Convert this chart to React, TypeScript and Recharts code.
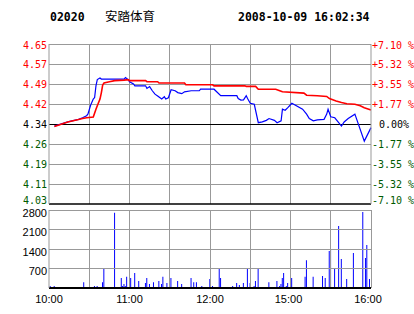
import React from 'react';
import { ComposedChart, BarChart, Line, Bar, XAxis, YAxis, ReferenceLine } from 'recharts';

const stockCode = '02020';
const stockName = '安踏体育';
const timestamp = '2008-10-09 16:02:34';

const prevClose = 4.34;
const pctTickValues = [7.1, 5.325, 3.55, 1.775, 0, -1.775, -3.55, -5.325, -7.1];
const priceTickLabels = ['4.65', '4.57', '4.49', '4.42', '4.34', '4.26', '4.19', '4.11', '4.03'];
const pctTickLabels = ['+7.10 %', '+5.32 %', '+3.55 %', '+1.77 %', '0.00%', '-1.77 %', '-3.55 %', '-5.32 %', '-7.10 %'];
const volumeTicks = [0, 700, 1400, 2100, 2800];
const volumeTickLabels = ['', '700', '1400', '2100', '2800'];
const timeTicks = [0, 30, 60, 90, 120, 150, 180, 210, 240];
const timeLabels = ['10:00', '', '11:00', '', '12:00', '', '15:00', '', '16:00'];

// minute index from 10:00 (0..240, lunch break removed)
const priceMinutes = [4, 14, 22, 25, 28, 29, 31, 33, 34, 35, 36, 38, 39, 56, 57, 59, 60, 63, 64, 72, 73, 75, 77, 79, 81, 84, 86, 87, 89, 91, 94, 96, 99, 101, 106, 112, 113, 123, 128, 140, 141, 143, 145, 147, 148, 150, 153, 156, 159, 162, 164, 168, 170, 173, 174, 176, 178, 181, 189, 192, 194, 197, 200, 205, 207, 208, 210, 213, 218, 220, 223, 228, 235, 240];
const priceValues = [4.332, 4.348, 4.358, 4.364, 4.372, 4.378, 4.412, 4.436, 4.442, 4.487, 4.511, 4.517, 4.513, 4.513, 4.519, 4.511, 4.503, 4.494, 4.487, 4.487, 4.477, 4.484, 4.468, 4.455, 4.448, 4.436, 4.445, 4.436, 4.441, 4.472, 4.468, 4.461, 4.457, 4.464, 4.468, 4.468, 4.474, 4.474, 4.449, 4.449, 4.438, 4.432, 4.433, 4.449, 4.438, 4.420, 4.416, 4.345, 4.348, 4.354, 4.361, 4.354, 4.345, 4.352, 4.397, 4.393, 4.403, 4.420, 4.397, 4.378, 4.361, 4.352, 4.356, 4.358, 4.378, 4.397, 4.368, 4.364, 4.332, 4.348, 4.361, 4.378, 4.274, 4.326];

const avgMinutes = [4, 14, 22, 25, 28, 33, 35, 36, 38, 39, 40, 41, 45, 49, 56, 59, 60, 72, 73, 81, 82, 101, 102, 122, 123, 146, 147, 154, 156, 169, 172, 174, 190, 192, 200, 207, 209, 214, 218, 222, 228, 232, 235, 240];
const avgValues = [4.330, 4.348, 4.357, 4.361, 4.364, 4.367, 4.397, 4.410, 4.436, 4.460, 4.490, 4.498, 4.503, 4.507, 4.509, 4.511, 4.507, 4.507, 4.503, 4.503, 4.498, 4.498, 4.491, 4.491, 4.487, 4.487, 4.485, 4.485, 4.474, 4.474, 4.468, 4.464, 4.459, 4.451, 4.449, 4.446, 4.438, 4.429, 4.423, 4.418, 4.416, 4.410, 4.403, 4.394];

const volMinutes = [1, 4, 26, 34, 36, 40, 41, 49, 54, 55, 56, 57, 58, 61, 64, 67, 72, 73, 75, 78, 82, 84, 85, 88, 91, 96, 99, 106, 108, 110, 114, 120, 122, 127, 128, 137, 140, 142, 145, 148, 150, 153, 154, 156, 164, 170, 172, 173, 174, 175, 177, 178, 181, 191, 192, 197, 204, 206, 209, 210, 213, 216, 218, 222, 227, 234, 236, 237, 239];
const volValues = [70, 70, 210, 70, 70, 210, 680, 2700, 360, 70, 140, 70, 400, 360, 540, 250, 180, 360, 140, 210, 250, 140, 400, 180, 360, 250, 140, 360, 210, 210, 70, 320, 70, 720, 360, 70, 180, 110, 180, 680, 180, 70, 250, 680, 210, 250, 70, 140, 360, 540, 70, 180, 360, 400, 1000, 400, 430, 360, 1330, 1400, 720, 2230, 1040, 320, 1260, 2730, 1080, 1540, 320];

const priceData = priceMinutes.map((t, i) => ({ t, v: priceValues[i], pct: (priceValues[i] / prevClose - 1) * 100 }));
const avgData = avgMinutes.map((t, i) => ({ t, v: avgValues[i] }));
const volData = volMinutes.map((t, i) => ({ t, vol: volValues[i] }));

const priceTicks = pctTickValues.map((p) => prevClose * (1 + p / 100));
const priceMin = priceTicks[priceTicks.length - 1];
const priceMax = priceTicks[0];

const RED = '#ff0000';
const GREEN = '#005a00';
const BLUE = '#0000ff';
const GRID = '#999999';
const MONO = '"DejaVu Sans Mono", monospace';
const SANS = '"Liberation Sans", Arial, sans-serif';

const labelColor = (i: number) => (i < 4 ? RED : i === 4 ? '#000' : GREEN);
const edgeDy = (i: number) => (i === 0 ? 1.5 : i === 8 ? -4 : 0);
const findIdx = (arr: number[], v: number) => arr.findIndex((a) => Math.abs(a - v) < 1e-6);

const PriceTick = (props: any) => {
  const { x, y, payload } = props;
  const i = findIdx(priceTicks, payload.value);
  if (i < 0) return null;
  return (
    <text x={x} y={y + edgeDy(i)} textAnchor="end" dominantBaseline="central" fill={labelColor(i)} fontFamily={MONO} fontSize={10}>
      {priceTickLabels[i]}
    </text>
  );
};

const PctTick = (props: any) => {
  const { x, y, payload } = props;
  const i = findIdx(pctTickValues, payload.value);
  if (i < 0) return null;
  return (
    <text x={x + (i === 4 ? 7 : 0)} y={y + edgeDy(i)} textAnchor="start" dominantBaseline="central" fill={labelColor(i)} fontFamily={MONO} fontSize={10}>
      {pctTickLabels[i]}
    </text>
  );
};

const VolTick = (props: any) => {
  const { x, y, payload } = props;
  const i = findIdx(volumeTicks, payload.value);
  if (i < 0) return null;
  return (
    <text x={x} y={y + 2.5} textAnchor="end" dominantBaseline="central" fill="#000" fontFamily={SANS} fontSize={11}>
      {volumeTickLabels[i]}
    </text>
  );
};

const timeDx = [0, 0, 0, 0, 0, 0, -2, 0, -3];
const TimeTick = (props: any) => {
  const { x, y, payload } = props;
  const i = findIdx(timeTicks, payload.value);
  if (i < 0 || !timeLabels[i]) return null;
  return (
    <text x={x + timeDx[i]} y={y + 15} textAnchor="middle" fill="#000" fontFamily={SANS} fontSize={11}>
      {timeLabels[i]}
    </text>
  );
};

export default function App() {
  return (
    <div style={{ position: 'absolute', left: 0, top: 0, width: 414, height: 314, background: '#fff' }}>
      <svg width={414} height={30} style={{ position: 'absolute', left: 0, top: 0 }}>
        <text x={50} y={21} fontFamily={MONO} fontWeight="bold" fontSize={11.5} fill="#000">{stockCode}</text>
        <text x={105} y={20.5} fontFamily='"Noto Sans CJK SC", sans-serif' fontSize={12.5} fill="#000">{stockName}</text>
        <text x={238} y={21} fontFamily={MONO} fontWeight="bold" fontSize={11.5} fill="#000">{timestamp}</text>
      </svg>
      <div style={{ position: 'absolute', left: 0, top: 0 }}>
        <ComposedChart width={414} height={205} margin={{ top: 44, right: 0, bottom: 1, left: 0 }}>
          <XAxis dataKey="t" type="number" domain={[0, 240]} ticks={timeTicks} hide />
          <YAxis yAxisId="price" orientation="left" width={49} type="number" domain={[priceMin, priceMax]} allowDataOverflow ticks={priceTicks} tickSize={0} tickMargin={2} tickLine={false} axisLine={{ stroke: GRID }} tick={<PriceTick />} interval={0} />
          <YAxis yAxisId="pct" orientation="right" width={43} type="number" domain={[-7.1, 7.1]} allowDataOverflow ticks={pctTickValues} tickSize={0} tickMargin={1} tickLine={false} axisLine={{ stroke: GRID }} tick={<PctTick />} interval={0} />
          <ReferenceLine yAxisId="price" x={30} stroke={GRID} shapeRendering="crispEdges" />
          <ReferenceLine yAxisId="price" x={60} stroke={GRID} shapeRendering="crispEdges" />
          <ReferenceLine yAxisId="price" x={90} stroke={GRID} shapeRendering="crispEdges" />
          <ReferenceLine yAxisId="price" x={120} stroke={GRID} shapeRendering="crispEdges" />
          <ReferenceLine yAxisId="price" x={150} stroke={GRID} shapeRendering="crispEdges" />
          <ReferenceLine yAxisId="price" x={180} stroke={GRID} shapeRendering="crispEdges" />
          <ReferenceLine yAxisId="price" x={210} stroke={GRID} shapeRendering="crispEdges" />
          <ReferenceLine yAxisId="price" y={priceTicks[0]} stroke={GRID} shapeRendering="crispEdges" />
          <ReferenceLine yAxisId="price" y={priceTicks[1]} stroke={GRID} shapeRendering="crispEdges" />
          <ReferenceLine yAxisId="price" y={priceTicks[2]} stroke={GRID} shapeRendering="crispEdges" />
          <ReferenceLine yAxisId="price" y={priceTicks[3]} stroke={GRID} shapeRendering="crispEdges" />
          <ReferenceLine yAxisId="price" y={priceTicks[5]} stroke={GRID} shapeRendering="crispEdges" />
          <ReferenceLine yAxisId="price" y={priceTicks[6]} stroke={GRID} shapeRendering="crispEdges" />
          <ReferenceLine yAxisId="price" y={priceTicks[7]} stroke={GRID} shapeRendering="crispEdges" />
          <ReferenceLine yAxisId="price" y={prevClose} stroke="#000" shapeRendering="crispEdges" />
          <ReferenceLine yAxisId="price" y={priceMin} stroke="#000" strokeWidth={1.5} />
          <Line yAxisId="pct" data={priceData} dataKey="pct" type="linear" stroke="none" dot={false} activeDot={false} isAnimationActive={false} />
          <Line yAxisId="price" data={priceData} dataKey="v" type="linear" stroke={BLUE} strokeWidth={1.2} dot={false} isAnimationActive={false} />
          <Line yAxisId="price" data={avgData} dataKey="v" type="linear" stroke={RED} strokeWidth={1.6} dot={false} isAnimationActive={false} />
        </ComposedChart>
      </div>
      <div style={{ position: 'absolute', left: 0, top: 200 }}>
        <BarChart width={414} height={114} data={volData} margin={{ top: 10, right: 43, bottom: 0, left: 0 }}>
          <XAxis dataKey="t" type="number" domain={[0, 240]} ticks={timeTicks} height={26} tickSize={0} tickMargin={0} tickLine={false} axisLine={{ stroke: '#000', strokeWidth: 2 }} tick={<TimeTick />} interval={0} />
          <YAxis width={49} type="number" domain={[0, 2800]} allowDataOverflow ticks={volumeTicks} tickSize={0} tickMargin={2} tickLine={false} axisLine={{ stroke: GRID }} tick={<VolTick />} interval={0} />
          <ReferenceLine x={30} stroke={GRID} shapeRendering="crispEdges" />
          <ReferenceLine x={60} stroke={GRID} shapeRendering="crispEdges" />
          <ReferenceLine x={90} stroke={GRID} shapeRendering="crispEdges" />
          <ReferenceLine x={120} stroke={GRID} shapeRendering="crispEdges" />
          <ReferenceLine x={150} stroke={GRID} shapeRendering="crispEdges" />
          <ReferenceLine x={180} stroke={GRID} shapeRendering="crispEdges" />
          <ReferenceLine x={210} stroke={GRID} shapeRendering="crispEdges" />
          <ReferenceLine x={240} stroke={GRID} shapeRendering="crispEdges" />
          <ReferenceLine y={700} stroke={GRID} shapeRendering="crispEdges" />
          <ReferenceLine y={1400} stroke={GRID} shapeRendering="crispEdges" />
          <ReferenceLine y={2100} stroke={GRID} shapeRendering="crispEdges" />
          <ReferenceLine y={2800} stroke={GRID} shapeRendering="crispEdges" />
          <Bar dataKey="vol" fill={BLUE} barSize={1} isAnimationActive={false} />
        </BarChart>
      </div>
    </div>
  );
}
